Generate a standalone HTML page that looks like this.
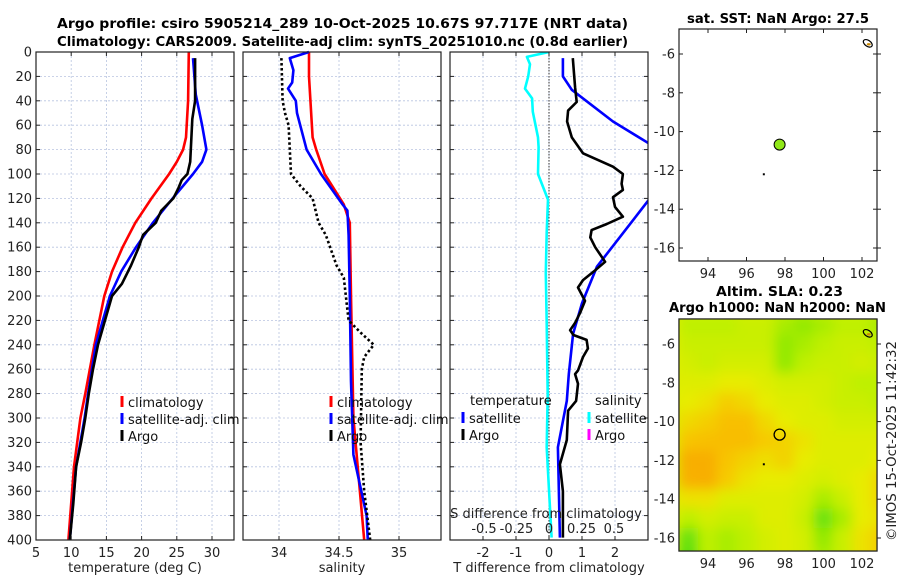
<!DOCTYPE html>
<html><head><meta charset="utf-8">
<style>
html,body{margin:0;padding:0;background:#fff;}
svg{display:block;font-family:"DejaVu Sans","Liberation Sans",sans-serif;}
</style></head>
<body>
<svg id="chart" width="900" height="580" viewBox="0 0 900 580" xmlns="http://www.w3.org/2000/svg">
<defs>
<clipPath id="clip3"><rect x="450" y="52" width="198" height="488"/></clipPath>
<clipPath id="clipMap2"><rect x="679" y="319" width="198" height="232"/></clipPath>
<filter id="blur" x="-5%" y="-5%" width="110%" height="110%"><feGaussianBlur stdDeviation="6"/></filter>
</defs>
<text x="57" y="28" font-size="13.5" font-weight="bold" textLength="571" lengthAdjust="spacingAndGlyphs">Argo profile: csiro 5905214_289 10-Oct-2025 10.67S 97.717E (NRT data)</text>
<text x="57" y="46" font-size="13.5" font-weight="bold" textLength="571" lengthAdjust="spacingAndGlyphs">Climatology: CARS2009. Satellite-adj clim: synTS_20251010.nc (0.8d earlier)</text>
<text x="687" y="23" font-size="13" font-weight="bold" textLength="182" lengthAdjust="spacingAndGlyphs">sat. SST: NaN Argo: 27.5</text>
<text x="716" y="296" font-size="13" font-weight="bold" textLength="127" lengthAdjust="spacingAndGlyphs">Altim. SLA: 0.23</text>
<text x="669" y="312" font-size="13" font-weight="bold" textLength="217" lengthAdjust="spacingAndGlyphs">Argo h1000: NaN h2000: NaN</text>
<text transform="translate(896,541) rotate(-90)" font-size="13" fill="#222" textLength="200" lengthAdjust="spacingAndGlyphs">©IMOS 15-Oct-2025 11:42:32</text>
<g id="g"></g>
</svg>
<script>
// ---- depth axis ----
const depthTicks = [0,20,40,60,80,100,120,140,160,180,200,220,240,260,280,300,320,340,360,380,400];
// ---- panel 1 temperature ----
const tempTicks = [5,10,15,20,25,30];
const climTDepth = [0,40,70,80,90,100,120,140,160,180,200,240,280,300,340,400];
const climT = [26.7,26.6,26.3,25.9,25.0,23.9,21.4,19.1,17.3,15.8,14.7,13.3,12.0,11.3,10.4,9.6];
const satTDepth = [5,35,60,80,90,100,120,140,160,180,200,240,280,300,340,400];
const satT = [27.3,27.7,28.6,29.2,28.6,27.3,24.4,21.6,19.2,17.1,15.5,13.5,12.4,11.9,10.7,9.8];
const argoTDepth = [5,40,55,90,100,105,112,120,130,140,150,160,175,190,200,220,240,260,280,300,320,340,370,400];
const argoT = [27.6,27.6,27.2,26.9,26.5,25.7,25.2,24.5,22.8,22.0,20.2,19.6,18.5,17.2,15.8,14.8,13.8,13.1,12.5,12.0,11.4,10.7,10.3,9.8];
// ---- panel 2 salinity ----
const salTicks = [34,34.5,35];
const climSDepth = [0,20,70,80,100,125,140,200,300,400];
const climS = [34.25,34.25,34.28,34.31,34.38,34.54,34.59,34.60,34.62,34.71];
const satSDepth = [0,5,15,25,30,40,50,80,100,125,130,150,200,270,330,380,400];
const satS = [34.25,34.09,34.12,34.11,34.075,34.14,34.15,34.23,34.35,34.53,34.57,34.58,34.59,34.60,34.62,34.73,34.74];
const argoSDepth = [5,40,50,60,100,110,120,140,150,175,185,220,230,240,250,260,320,360,400];
const argoS = [34.02,34.03,34.05,34.08,34.10,34.18,34.28,34.33,34.39,34.48,34.54,34.58,34.68,34.79,34.71,34.69,34.68,34.71,34.76];
// ---- panel 3 differences ----
const tDiffTicks = [-2,-1,0,1,2];
const sDiffTicks = [-0.5,-0.25,0,0.25,0.5];
const sDiffLabels = ['-0.5','-0.25','0','0.25','0.5'];
const satDTDepth = [5,20,31,57,75,90,121,176,206,231,264,286,324,398];
const satDT = [0.42,0.42,0.69,1.94,3.03,3.6,3.03,1.45,1.0,0.73,0.6,0.54,0.27,0.33];
const argoDTDepth = [5,29,41,48,57,70,83,94,100,108,113,119,127,135,141,146,152,160,172,178,187,193,204,214,222,228,232,236,243,250,261,264,272,286,294,318,338,360,398];
const argoDT = [0.72,0.79,0.84,0.58,0.55,0.69,1.03,1.94,2.24,2.2,2.24,1.94,2.0,2.24,1.75,1.29,1.25,1.4,1.7,1.44,1.03,0.88,1.09,0.94,0.79,0.64,0.74,1.14,1.18,1.03,0.88,0.79,0.88,0.82,0.58,0.54,0.33,0.42,0.42];
const satDSDepth = [0,4,10,20,30,38,49,70,78,100,121,148,181,222,281,324,374,398];
const satDS = [0,-0.17,-0.146,-0.16,-0.185,-0.13,-0.125,-0.085,-0.08,-0.085,-0.008,-0.018,-0.025,-0.018,-0.01,-0.018,0.008,0.02];
// ---- maps ----
const lonTicks = [94,96,98,100,102];
const latTicks = [-6,-8,-10,-12,-14,-16];
const argoLon = [97.72];
const argoLat = [-10.67];
const islandLon = [96.9];
const islandLat = [-12.2];
const slaLon = [93,94,95,96,97,98,99,100,101,102,103];
const slaLat = [-5,-6,-7,-8,-9,-10,-11,-12,-13,-14,-15,-16,-17];
const slaGrid = [
 [0.35,0.35,0.35,0.4,0.4,0.3,0.25,0.3,0.35,0.35,0.3],
 [0.4,0.4,0.4,0.4,0.4,0.25,0.3,0.35,0.4,0.4,0.35],
 [0.45,0.4,0.45,0.45,0.45,0.25,0.35,0.4,0.4,0.45,0.4],
 [0.5,0.5,0.55,0.55,0.5,0.45,0.45,0.45,0.4,0.35,0.35],
 [0.55,0.6,0.7,0.65,0.55,0.5,0.5,0.45,0.4,0.4,0.35],
 [0.65,0.7,0.78,0.78,0.65,0.55,0.5,0.5,0.45,0.45,0.45],
 [0.75,0.78,0.8,0.8,0.72,0.68,0.6,0.5,0.5,0.5,0.5],
 [0.9,0.9,0.75,0.68,0.62,0.68,0.55,0.5,0.5,0.5,0.55],
 [0.88,0.9,0.72,0.6,0.55,0.55,0.5,0.45,0.5,0.55,0.65],
 [0.6,0.6,0.5,0.5,0.5,0.5,0.45,0.3,0.4,0.55,0.65],
 [0.35,0.45,0.4,0.4,0.5,0.5,0.4,0.15,0.3,0.55,0.6],
 [0.15,0.35,0.3,0.35,0.45,0.5,0.45,0.25,0.4,0.6,0.7],
 [0.1,0.35,0.3,0.35,0.45,0.5,0.45,0.3,0.4,0.6,0.7]
];

const NS='http://www.w3.org/2000/svg';
const root=document.getElementById('g');
function mk(tag,attrs,parent){const e=document.createElementNS(NS,tag);for(const k in attrs)e.setAttribute(k,attrs[k]);(parent||root).appendChild(e);return e;}
function txt(s,attrs,parent){const e=mk('text',attrs,parent);e.textContent=s;return e;}

const Y0=52, Y1=540;
const yD=d=>Y0+d*(Y1-Y0)/400;
const xT=t=>36+(t-5)*7.04;
const xS=s=>279+(s-34)*120;
const xDT=v=>549+33*v;
const xDS=v=>549+130*v;

function panelFrame(name,x0,x1,xticks,xf){
  const g=mk('g',{});
  
  
  xticks.forEach(t=>{const l=mk('line',{x1:xf(t),x2:xf(t),y1:Y0,y2:Y1,stroke:'#b8c4e0','stroke-width':0.8,'stroke-dasharray':'2,2'},g);});
  depthTicks.forEach(d=>{const l=mk('line',{x1:x0,x2:x1,y1:yD(d),y2:yD(d),stroke:'#b8c4e0','stroke-width':0.8,'stroke-dasharray':'2,2'},g);});
  return g;
}
function panelBorder(name,x0,x1,xticks,xf,labels,showY){
  const g=mk('g',{});
  
  
  mk('rect',{x:x0,y:Y0,width:x1-x0,height:Y1-Y0,fill:'none',stroke:'#222','stroke-width':1.2},g);
  depthTicks.forEach(d=>{
    mk('line',{x1:x0,x2:x0+4,y1:yD(d),y2:yD(d),stroke:'#222'},g);
    mk('line',{x1:x1-4,x2:x1,y1:yD(d),y2:yD(d),stroke:'#222'},g);
    if(showY){const t=txt(String(d),{x:x0-4,y:yD(d)+4.5,'font-size':13,'text-anchor':'end',fill:'#222'},g);}
  });
  xticks.forEach((t,i)=>{
    mk('line',{x1:xf(t),x2:xf(t),y1:Y1-4,y2:Y1,stroke:'#222'},g);
    mk('line',{x1:xf(t),x2:xf(t),y1:Y0,y2:Y0+4,stroke:'#222'},g);
    const e=txt(labels[i],{x:xf(t),y:Y1+17,'font-size':13,'text-anchor':'middle',fill:'#222'},g);
    
  });
}
function line(name,xs,ds,xf,color,dash,parent){
  const pts=xs.map((v,i)=>xf(v).toFixed(1)+','+yD(ds[i]).toFixed(1)).join(' ');
  const p=mk('polyline',{points:pts,fill:'none',stroke:color,'stroke-width':2.6,'stroke-linejoin':'round'},parent);
  if(dash)p.setAttribute('stroke-dasharray',dash);
  
  
  return p;
}
function legendItem(name,x,y,color,label,parent){
  const g=mk('g',{},parent);
  
  
  mk('line',{x1:x,x2:x,y1:y-10,y2:y+1,stroke:color,'stroke-width':3},g);
  txt(label,{x:x+6,y:y+1,'font-size':13,fill:'#111'},g);
}

// Panel 1
panelFrame('temperature-grid',36,234,tempTicks,xT);
line('climatology-temp-line',climT,climTDepth,xT,'#ff0000');
line('satellite-temp-line',satT,satTDepth,xT,'#0000ff');
line('argo-temp-line',argoT,argoTDepth,xT,'#000');
panelBorder('temperature-panel',36,234,tempTicks,xT,tempTicks.map(String),true);
txt('temperature (deg C)',{x:135,y:572,'font-size':13,'text-anchor':'middle',fill:'#222',});
legendItem('legend-climatology',122,406,'#ff0000','climatology');
legendItem('legend-satellite-adj',122,423,'#0000ff','satellite-adj. clim');
legendItem('legend-argo',122,440,'#000','Argo');

// Panel 2
panelFrame('salinity-grid',243,441,salTicks,xS);
line('climatology-sal-line',climS,climSDepth,xS,'#ff0000');
line('satellite-sal-line',satS,satSDepth,xS,'#0000ff');
line('argo-sal-line',argoS,argoSDepth,xS,'#000','2.5,2.5');
panelBorder('salinity-panel',243,441,salTicks,xS,['34','34.5','35'],false);
txt('salinity',{x:342,y:572,'font-size':13,'text-anchor':'middle',fill:'#222',});
legendItem('legend-sal-climatology',331,406,'#ff0000','climatology');
legendItem('legend-sal-satellite-adj',331,423,'#0000ff','satellite-adj. clim');
legendItem('legend-sal-argo',331,440,'#000','Argo');

// Panel 3
panelFrame('difference-grid',450,648,tDiffTicks,xDT);
const g3=mk('g',{'clip-path':'url(#clip3)'});


mk('line',{x1:xDT(0),x2:xDT(0),y1:Y0,y2:Y1,stroke:'#333','stroke-width':1,'stroke-dasharray':'1.5,1.5'},g3);
line('sal-diff-satellite-line',satDS,satDSDepth,xDS,'#00ffff',null,g3);
line('temp-diff-satellite-line',satDT,satDTDepth,xDT,'#0000ff',null,g3);
line('temp-diff-argo-line',argoDT,argoDTDepth,xDT,'#000',null,g3);
panelBorder('difference-panel',450,648,tDiffTicks,xDT,tDiffTicks.map(String),false);
txt('T difference from climatology',{x:549,y:572,'font-size':13,'text-anchor':'middle',fill:'#222',});
txt('S difference from climatology',{x:546,y:518,'font-size':13,'text-anchor':'middle',fill:'#222',});
sDiffTicks.forEach((v,i)=>{const e=txt(sDiffLabels[i],{x:xDS(v),y:533,'font-size':13,'text-anchor':'middle',fill:'#222'});});
txt('temperature',{x:470,y:405,'font-size':13,fill:'#111',});
txt('salinity',{x:595,y:405,'font-size':13,fill:'#111',});
legendItem('legend-temp-satellite',463,422,'#0000ff','satellite');
legendItem('legend-temp-argo',463,439,'#000','Argo');
legendItem('legend-sal-diff-satellite',589,422,'#00ffff','satellite');
legendItem('legend-sal-diff-argo',589,439,'#ff00ff','Argo');

// Maps
function mapAxes(name,top,bottom){
  const lonX=l=>708+(l-94)*19.25;
  const latY=la=>top+25+(-6-la)*19.4;
  const g=mk('g',{});
  
  
  mk('rect',{x:679,y:top,width:198,height:bottom-top,fill:'none',stroke:'#222','stroke-width':1.2},g);
  lonTicks.forEach(l=>{
    mk('line',{x1:lonX(l),x2:lonX(l),y1:bottom-4,y2:bottom,stroke:'#222'},g);
    mk('line',{x1:lonX(l),x2:lonX(l),y1:top,y2:top+4,stroke:'#222'},g);
    const e=txt(String(l),{x:lonX(l),y:bottom+17,'font-size':13,'text-anchor':'middle',fill:'#222'},g);
    
  });
  latTicks.forEach(la=>{
    mk('line',{x1:679,x2:683,y1:latY(la),y2:latY(la),stroke:'#222'},g);
    mk('line',{x1:873,x2:881,y1:latY(la),y2:latY(la),stroke:'#222'},g);
    const e=txt(String(la),{x:675,y:latY(la)+4.5,'font-size':13,'text-anchor':'end',fill:'#222'},g);
    
  });
  return {lonX,latY};
}
function island(lonX,latY,parent){
  const g=mk('g',{},parent);
  
  
  mk('ellipse',{cx:lonX(102.3),cy:latY(-5.45),rx:5,ry:3,fill:'none',stroke:'#000','stroke-width':1.2,transform:`rotate(35 ${lonX(102.3)} ${latY(-5.45)})`},g);
  mk('ellipse',{cx:lonX(102.35),cy:latY(-5.5),rx:2,ry:1.2,fill:'#c80',stroke:'none'},g);
}
// Map 1
const m1=mapAxes('sst-map',29,261);
island(m1.lonX,m1.latY);
argoLon.forEach((l,i)=>{const c=mk('circle',{cx:m1.lonX(l),cy:m1.latY(argoLat[i]),r:5.5,fill:'#90e818',stroke:'#000','stroke-width':1});});
islandLon.forEach((l,i)=>{const c=mk('rect',{x:m1.lonX(l)-1,y:m1.latY(islandLat[i])-1,width:2,height:2,fill:'#000'});});

// Map 2 heatmap
const m2=mapAxes('sla-map',319,551);
function slaColor(v){
  const stops=[[0,[40,215,20]],[0.35,[190,240,0]],[0.55,[232,236,0]],[0.75,[248,196,0]],[1,[248,160,0]]];
  for(let i=1;i<stops.length;i++){if(v<=stops[i][0]){const a=stops[i-1],b=stops[i],t=(v-a[0])/(b[0]-a[0]);return 'rgb('+a[1].map((c,k)=>Math.round(c+(b[1][k]-c)*t)).join(',')+')';}}
  return 'rgb(248,160,0)';
}
const hg=mk('g',{'clip-path':'url(#clipMap2)'});


mk('rect',{x:679,y:319,width:198,height:232,fill:slaColor(0.5)},hg);
const hb=mk('g',{filter:'url(#blur)'},hg);
slaGrid.forEach((row,r)=>row.forEach((v,c)=>{
  const x=m2.lonX(slaLon[c]-0.5), y=m2.latY(slaLat[r]+0.5);
  const cell=mk('rect',{x:x-0.5,y:y-0.5,width:20.3,height:20.4,fill:slaColor(v)},hb);
  
  
}));
mk('rect',{x:679,y:319,width:198,height:232,fill:'none',stroke:'#222','stroke-width':1.2});
island(m2.lonX,m2.latY);
argoLon.forEach((l,i)=>{const c=mk('circle',{cx:m2.lonX(l),cy:m2.latY(argoLat[i]),r:5.5,fill:'none',stroke:'#000','stroke-width':1.3});});
islandLon.forEach((l,i)=>{const c=mk('rect',{x:m2.lonX(l)-1,y:m2.latY(islandLat[i])-1,width:2,height:2,fill:'#000'});});
</script>
</body></html>
